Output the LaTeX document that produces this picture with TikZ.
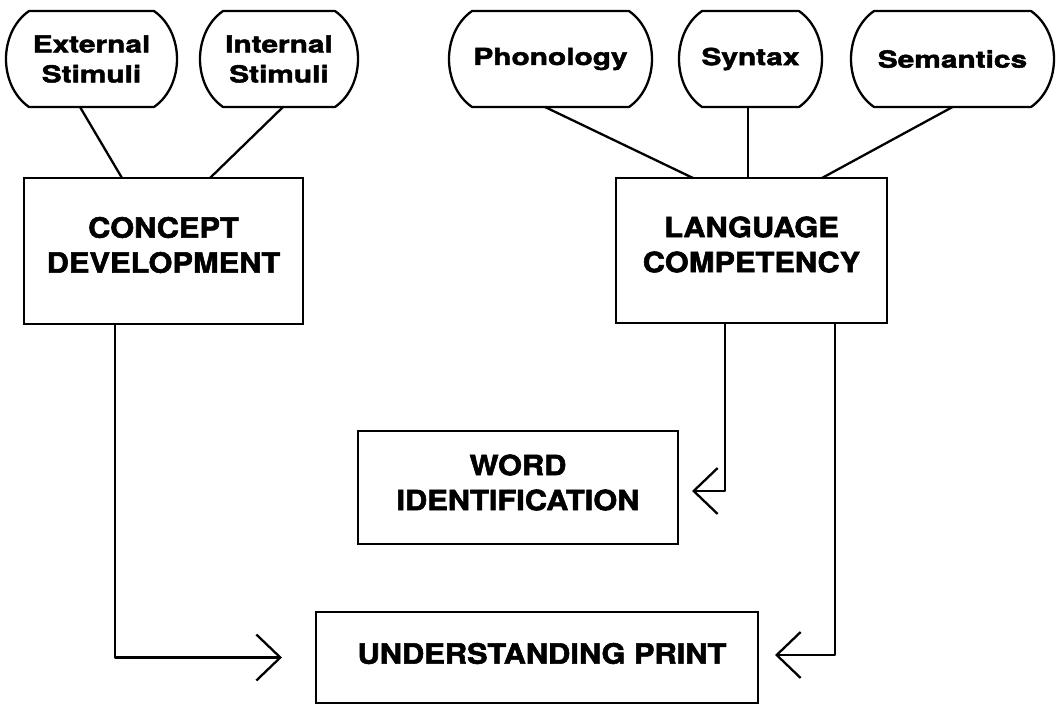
\documentclass[tikz,border=0pt]{standalone}
\usepackage{fontspec}
\setmainfont{TeX Gyre Heros}
\newfontfamily\ovfont{TeX Gyre Heros}[FakeStretch=1.27,FakeBold=2]
\newfontfamily\bxfont{TeX Gyre Heros}[FakeStretch=1.10,FakeBold=2]
\usetikzlibrary{arrows.meta}
\newcommand\ovaloutline[1]{%
  \draw[line] ([xshift=24pt]#1.north west) -- ([xshift=-24pt]#1.north east)
    to[bend left=55] ([xshift=-24pt]#1.south east)
    -- ([xshift=24pt]#1.south west)
    to[bend left=55] ([xshift=24pt]#1.north west) -- cycle;}
\begin{document}
\begin{tikzpicture}[x=1pt,y=-1pt,
  line/.style={line width=2.3pt, line join=round},
  ovalbox/.style={inner sep=0pt, outer sep=0pt, minimum height=96pt, align=center,
    font=\ovfont\bfseries\fontsize{23.5}{30}\selectfont},
  rectbox/.style={draw, line width=2.3pt, inner sep=0pt, outer sep=0pt},
  boxtext/.style={inner sep=0pt, align=center,
    font=\bxfont\bfseries\fontsize{28}{35}\selectfont},
  arr/.style={line, -{Straight Barb[length=24pt,width=46pt]}}
]
\fill[white] (0,0) rectangle (1058,705);
\useasboundingbox (0,0) rectangle (1058,705);

% ovals
\node[ovalbox, minimum width=173pt] (ext) at (91.5,59) {External\\Stimuli};
\node[ovalbox, minimum width=160pt] (int) at (279,59) {Internal\\Stimuli};
\node[ovalbox, minimum width=205pt] (phon) at (550.5,59) {Phonology};
\node[ovalbox, minimum width=145pt] (syn) at (750.5,59) {Syntax};
\node[ovalbox, minimum width=205pt] (sem) at (952.5,59) {Semantics};
\ovaloutline{ext}
\ovaloutline{int}
\ovaloutline{phon}
\ovaloutline{syn}
\ovaloutline{sem}

% boxes
\node[rectbox, minimum width=279pt, minimum height=146pt] (concept) at (163.5,251) {};
\node[rectbox, minimum width=271pt, minimum height=145pt] (lang) at (751.5,250.5) {};
\node[rectbox, minimum width=320pt, minimum height=113pt] (word) at (518,487.5) {};
\node[rectbox, minimum width=442pt, minimum height=91pt] (under) at (537,657.5) {};
\node[boxtext] (conceptT) at ([yshift=6pt]concept.center) {CONCEPT\\DEVELOPMENT};
\node[boxtext] (langT) at ([yshift=6pt]lang.center) {LANGUAGE\\COMPETENCY};
\node[boxtext] (wordT) at ([yshift=5pt]word.center) {WORD\\IDENTIFICATION};
\node[boxtext] (underT) at ([yshift=4pt,xshift=5pt]under.center) {UNDERSTANDING PRINT};

% connectors
\draw[line] ([xshift=-11.5pt]ext.south) -- ([xshift=-41.5pt]concept.north);
\draw[line] ([xshift=4pt]int.south) -- ([xshift=46.5pt]concept.north);
\draw[line] ([xshift=-5.5pt]phon.south) -- ([xshift=-58.5pt]lang.north);
\draw[line] ([xshift=-2.5pt]syn.south) -- ([xshift=-3.5pt]lang.north);
\draw[line] (sem.south) -- ([xshift=70.5pt]lang.north);
\draw[arr] ([xshift=-48.5pt]concept.south) |- ([xshift=-34pt]under.west);
\draw[arr] ([xshift=-26.5pt]lang.south) |- ([xshift=14pt,yshift=-3.5pt]word.east);
\draw[arr] ([xshift=83.5pt]lang.south) |- ([xshift=17pt,yshift=2.5pt]under.east);
\end{tikzpicture}
\end{document}
